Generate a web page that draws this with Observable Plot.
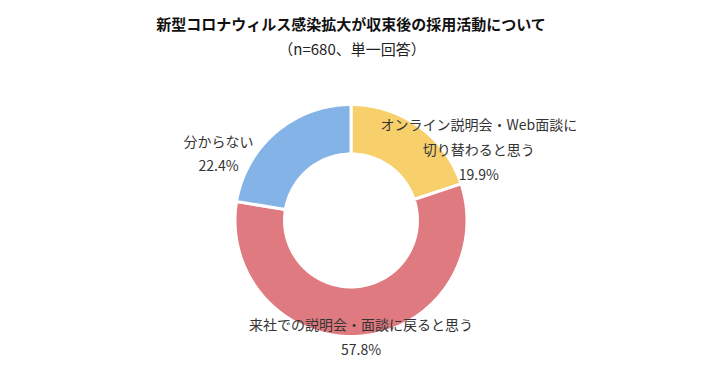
<!DOCTYPE html>
<html><head><meta charset="utf-8">
<script src="https://cdn.jsdelivr.net/npm/d3@7"></script>
<script src="https://cdn.jsdelivr.net/npm/@observablehq/plot@0.6"></script>
<style>body{margin:0;background:#fff}</style>
</head><body><div id="chart"></div>
<script>
const title = "新型コロナウィルス感染拡大が収束後の採用活動について";
const subtitle = "（n=680、単一回答）";
const categories = ["オンライン説明会・Web面談に\n切り替わると思う", "来社での説明会・面談に戻ると思う", "分からない"];
const values = [19.9, 57.8, 22.4];
const colors = ["#f7d06c", "#df7b80", "#84b3e7"];

const cx = 350.5, cy = 220, R = 116, innerRatio = 0.573;
const pie = d3.pie().sort(null).value(d => d.value)(categories.map((c, i) => ({category: c, value: values[i], i})));

const pts = [];
for (const a of pie) {
  const n = Math.max(2, Math.ceil((a.endAngle - a.startAngle) / (Math.PI / 180)));
  for (let k = 0; k <= n; k++) {
    const t = a.startAngle + (a.endAngle - a.startAngle) * k / n;
    pts.push({category: a.data.category, x: Math.sin(t), y: Math.cos(t)});
  }
  for (let k = n; k >= 0; k--) {
    const t = a.startAngle + (a.endAngle - a.startAngle) * k / n;
    pts.push({category: a.data.category, x: innerRatio * Math.sin(t), y: innerRatio * Math.cos(t)});
  }
}
const labels = pie.map(a => {
  const m = (a.startAngle + a.endAngle) / 2;
  return {i: a.data.i, x: Math.sin(m), y: Math.cos(m), text: a.data.category + "\n" + a.data.value.toFixed(1) + "%"};
});
const nudges = [[60, 21], [1, -2], [-57.5, 19]];
const labelStyle = {fontSize: 14, lineHeight: 1.78, fill: "#333", lineAnchor: "middle"};

const chart = Plot.plot({
  width: 723, height: 378, margin: 0,
  x: {domain: [-1, 1], range: [cx - R, cx + R], axis: null},
  y: {domain: [-1, 1], range: [cy + R, cy - R], axis: null},
  color: {domain: categories, range: colors},
  style: {fontFamily: "'Noto Sans CJK JP', sans-serif", background: "white", overflow: "visible"},
  marks: [
    Plot.line(pts, {x: "x", y: "y", z: "category", fill: "category", stroke: "white", strokeWidth: 3, curve: "linear-closed"}),
    ...labels.map(l => Plot.text([l], {x: "x", y: "y", text: "text", dx: nudges[l.i][0], dy: nudges[l.i][1], ...labelStyle})),
    Plot.text([title], {x: () => 0, frameAnchor: "top", dy: 25, text: d => d, fontWeight: "bold", fontSize: 15, fill: "#111", lineAnchor: "middle"}),
    Plot.text([subtitle], {x: () => 0, frameAnchor: "top", dy: 50, dx: 1, text: d => d, fontSize: 15, fill: "#222", lineAnchor: "middle", letterSpacing: "0.5px"})
  ]
});
document.getElementById("chart").append(chart);
</script>
</body></html>
